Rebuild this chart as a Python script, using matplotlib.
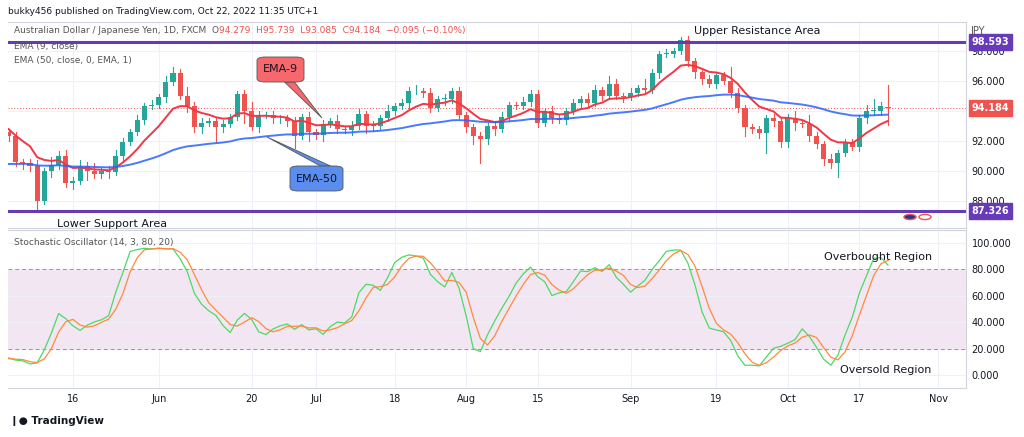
import numpy as np
import pandas as pd
import matplotlib.pyplot as plt
from matplotlib.patches import FancyBboxPatch, Polygon, Circle

# AUD/JPY daily closes (May -> Oct 21, 2022)
closes = [92.6, 92.3, 90.6, 90.5, 90.3, 88.0, 90.0, 90.4, 91.0, 89.2,
          89.3, 90.3, 90.0, 89.8, 90.0, 89.9, 91.0, 91.9, 92.6, 93.4,
          94.3, 94.4, 94.9, 95.9, 96.5, 95.0, 94.3, 92.9, 93.2, 93.3,
          92.9, 93.1, 93.6, 95.1, 94.0, 92.9, 93.7, 93.7, 93.5, 93.5,
          93.3, 92.3, 93.6, 92.6, 92.4, 93.1, 93.3, 92.8, 92.7, 93.0,
          93.8, 93.0, 93.0, 93.5, 94.0, 94.3, 94.5, 95.3, 95.3, 95.2,
          94.2, 94.8, 94.8, 95.3, 93.7, 92.9, 92.3, 92.1, 93.0, 92.8,
          93.6, 94.4, 94.3, 94.6, 95.1, 93.2, 94.0, 93.5, 93.4, 94.0,
          94.5, 94.8, 94.5, 95.4, 95.0, 95.8, 95.0, 94.9, 95.2, 95.5,
          95.4, 96.5, 97.8, 97.8, 98.0, 98.7, 97.3, 96.6, 96.1, 95.8,
          96.4, 96.0, 95.2, 94.2, 92.9, 92.8, 92.5, 93.5, 93.3, 91.9,
          93.5, 93.2, 93.1, 92.3, 91.8, 90.8, 90.5, 91.2, 91.9, 91.6,
          93.5, 94.0, 94.0, 94.3, 94.184]
first_open = 93.6
last_open = 94.279
# wick lengths above / below the candle body
up_wick = [0.5, 0.2, 0.3, 0.2, 0.3, 0.4, 0.2, 0.5, 0.3, 0.4,
           0.3, 0.4, 0.3, 0.5, 0.2, 0.3, 0.4, 0.3, 0.2, 0.3,
           0.2, 0.3, 0.2, 0.4, 0.4, 0.3, 0.6, 0.3, 0.3, 0.2,
           0.2, 0.3, 0.2, 0.2, 0.3, 0.6, 0.3, 0.2, 0.3, 0.2,
           0.2, 0.3, 0.2, 0.3, 0.2, 0.3, 0.2, 0.4, 0.2, 0.3,
           0.3, 0.2, 0.3, 0.2, 0.4, 0.2, 0.3, 0.3, 0.4, 0.2,
           0.3, 0.2, 0.3, 0.2, 0.3, 0.2, 0.2, 0.3, 0.2, 0.3,
           0.3, 0.2, 0.2, 0.3, 0.3, 0.3, 0.2, 0.3, 0.2, 0.2,
           0.3, 0.2, 0.4, 0.3, 0.2, 0.5, 0.3, 0.2, 0.3, 0.2,
           0.6, 0.3, 0.2, 0.3, 0.2, 0.2, 0.3, 0.2, 0.2, 0.3,
           0.2, 0.2, 0.9, 0.3, 0.2, 0.2, 0.2, 0.2, 0.3, 0.2,
           0.3, 0.5, 0.2, 0.6, 0.3, 0.2, 0.3, 0.2, 0.2, 0.2,
           0.2, 0.4, 0.8, 0.3, 1.46]
dn_wick = [0.2, 0.3, 0.3, 0.4, 0.3, 0.7, 0.2, 0.4, 0.3, 0.3,
           0.4, 0.2, 0.6, 0.3, 0.3, 0.4, 0.2, 0.3, 0.2, 0.2,
           0.3, 0.2, 0.2, 0.3, 0.2, 0.2, 0.4, 0.3, 0.4, 0.2,
           1.0, 0.3, 0.2, 0.2, 0.8, 0.2, 0.3, 0.2, 0.3, 0.3,
           0.3, 0.8, 0.2, 0.6, 0.3, 0.4, 0.2, 0.3, 0.2, 0.3,
           0.2, 0.5, 0.3, 0.2, 0.2, 0.3, 0.2, 0.3, 0.2, 0.3,
           0.3, 0.2, 0.4, 0.3, 0.2, 0.3, 0.5, 1.6, 0.3, 0.4,
           0.2, 0.3, 0.2, 0.2, 0.3, 0.3, 0.2, 0.3, 0.2, 0.3,
           0.2, 0.3, 0.2, 0.2, 0.3, 0.2, 0.2, 0.3, 0.2, 0.2,
           0.3, 0.2, 0.3, 0.2, 0.2, 0.2, 0.3, 0.4, 0.3, 0.2,
           0.3, 0.2, 0.3, 0.3, 0.6, 0.3, 0.3, 1.3, 0.3, 0.3,
           0.3, 0.5, 0.2, 0.3, 0.3, 0.4, 0.3, 0.9, 0.2, 0.2,
           0.3, 0.3, 0.3, 0.3, 1.09]
ema9_seed = 93.0
ema50_seed = 90.3
upper_level = 98.593
lower_level = 87.326
last_price = 94.184

price_ticks = [88, 90, 92, 94, 96, 98]
stoch_ticks = [0, 20, 40, 60, 80, 100]
date_ticks = ['2022-05-16', '2022-06-01', '2022-06-20', '2022-07-01', '2022-07-18', '2022-08-01',
              '2022-08-15', '2022-09-01', '2022-09-19', '2022-10-03', '2022-10-17', '2022-11-01']
date_labels = ['16', 'Jun', '20', 'Jul', '18', 'Aug', '15', 'Sep', '19', 'Oct', '17', 'Nov']

c = np.array(closes)
o = np.array([first_open] + closes[:-2] + [last_open])
h = np.maximum(o, c) + np.array(up_wick)
l = np.minimum(o, c) - np.array(dn_wick)
n = len(c)
idx = np.arange(n)

def ema(vals, period, seed):
    a = 2 / (period + 1)
    out, prev = [], seed
    for v in vals:
        prev = a * v + (1 - a) * prev
        out.append(prev)
    return np.array(out)

ema9 = ema(c, 9, ema9_seed)
ema50 = ema(c, 50, ema50_seed)
df = pd.DataFrame({'h': h, 'l': l, 'c': c})
hh = df.h.rolling(14, min_periods=1).max()
ll = df.l.rolling(14, min_periods=1).min()
raw_k = 100 * (df.c - ll) / (hh - ll)
k = raw_k.rolling(3, min_periods=1).mean()
d = k.rolling(3, min_periods=1).mean()

GREEN, RED, PURPLE = '#26a69a', '#ef5350', '#673ab7'
GRID, TXT = '#eef1f7', '#131722'
W, H = 1024, 437

fig = plt.figure(figsize=(W / 100, H / 100), dpi=100)
fig.patch.set_facecolor('white')
ax1 = fig.add_axes([8 / W, 1 - 228 / H, 958 / W, 206 / H])
ax2 = fig.add_axes([8 / W, 1 - 388 / H, 958 / W, 158 / H], sharex=ax1)

xmin, xmax = n - 1 - 880 / 7.15, n - 1 + 78 / 7.15
tick_pos = [n - 1 + np.busday_count('2022-10-21', t) for t in date_ticks]

for ax in (ax1, ax2):
    ax.set_facecolor('white')
    for s in ax.spines.values():
        s.set_color('#d1d4dc'); s.set_linewidth(0.8)
    ax.spines['left'].set_visible(False)
    ax.yaxis.tick_right()
    ax.tick_params(axis='y', length=0, labelsize=7, colors=TXT, pad=4)
    ax.tick_params(axis='x', length=0)
    for t in tick_pos:
        ax.axvline(t, color=GRID, lw=0.8, zorder=0)

# candles
for i in idx:
    col = GREEN if c[i] >= o[i] else RED
    ax1.plot([i, i], [l[i], h[i]], color=col, lw=0.8, zorder=2)
    lo, hi = min(o[i], c[i]), max(o[i], c[i])
    ax1.add_patch(plt.Rectangle((i - 0.35, lo), 0.7, max(hi - lo, 0.05), color=col, zorder=3, lw=0))
ax1.plot(idx, ema9, color='#f23645', lw=1.4, zorder=4)
ax1.plot(idx, ema50, color='#2962ff', lw=1.4, alpha=0.85, zorder=4)
for lv in (upper_level, lower_level):
    ax1.axhline(lv, color=PURPLE, lw=2.2, zorder=5)
ax1.axhline(last_price, color=RED, lw=0.7, ls=(0, (1, 2)), zorder=1)
for p in price_ticks:
    ax1.axhline(p, color=GRID, lw=0.8, zorder=0)
ax1.set_ylim(86.2, 99.93)
ax1.set_yticks(price_ticks)
# 94.000 is hidden behind the last-price label
ax1.set_yticklabels(['' if p == 94 else f'{p:.3f}' for p in price_ticks])
ax1.set_xlim(xmin, xmax)
ax1.tick_params(axis='x', labelbottom=False)

# price labels on the axis
for val, col in ((upper_level, PURPLE), (lower_level, PURPLE), (last_price, RED)):
    ax1.annotate(f'{val:.3f}', xy=(1.0, val), xycoords=('axes fraction', 'data'), xytext=(4, 0),
                 textcoords='offset points', va='center', ha='left', fontsize=7, color='white',
                 fontweight='bold', annotation_clip=False,
                 bbox=dict(boxstyle='square,pad=0.3', fc=col, ec=col))

fig.text(757 / W, 1 - 31 / H, 'Upper Resistance Area', ha='center', va='center', fontsize=8, color=TXT)
fig.text(112 / W, 1 - 224 / H, 'Lower Support Area', ha='center', va='center', fontsize=8, color=TXT)
t0 = fig.text(14 / W, 1 - 33 / H, 'Australian Dollar / Japanese Yen, 1D, FXCM  O', fontsize=6.5,
              color='#555')
ax1.annotate('94.279  H95.739  L93.085  C94.184  \u22120.095 (\u22120.10%)', xy=(1, 0),
             xycoords=t0, va='bottom', ha='left', fontsize=6.5, color=RED)
fig.text(14 / W, 1 - 49 / H, 'EMA (9, close)', fontsize=6.5, color='#555')
fig.text(14 / W, 1 - 63 / H, 'EMA (50, close, 0, EMA, 1)', fontsize=6.5, color='#555')
fig.text(8 / W, 1 - 14 / H, 'bukky456 published on TradingView.com, Oct 22, 2022 11:35 UTC+1',
         fontsize=6.5, color=TXT)
fig.text(970 / W, 1 - 34 / H, 'JPY', fontsize=7, color='#555')

# callouts
def callout(box, tip, text, fc):
    x0, y0, x1, y1 = box
    fig.patches.append(FancyBboxPatch((x0 / W, 1 - y1 / H), (x1 - x0) / W, (y1 - y0) / H,
                                      boxstyle='round,pad=0,rounding_size=0.008', fc=fc, ec='#555',
                                      lw=0.6, transform=fig.transFigure, zorder=10))
    cx = (x0 + x1) / 2
    cy = y1 if tip[1] > y1 else y0
    pts = [(tip[0] / W, 1 - tip[1] / H), ((cx + 4) / W, 1 - cy / H), ((cx + 14) / W, 1 - cy / H)]
    fig.patches.append(Polygon(pts, closed=True, fc=fc, ec='#555', lw=0.6,
                               transform=fig.transFigure, zorder=9))
    fig.text((x0 + x1) / 2 / W, 1 - (y0 + y1) / 2 / H, text, ha='center', va='center',
             fontsize=8, color=TXT, zorder=11)

callout((257, 57, 304, 82), (322, 118), 'EMA-9', '#f7676e')
callout((290, 166, 343, 191), (267, 137), 'EMA-50', '#5b8def')

fig.patches.append(Circle((910 / W, 1 - 217 / H), 6 / W, transform=fig.transFigure,
                          fc='#1e3a8a', ec='#ef5350', lw=1, zorder=10))
fig.patches.append(Circle((925 / W, 1 - 217 / H), 6 / W, transform=fig.transFigure,
                          fc='white', ec='#ef5350', lw=1, zorder=10))

# stochastic
ax2.axhspan(20, 80, color='#f3e6f3', zorder=0)
for lv in (80, 20):
    ax2.axhline(lv, color='#9598a1', lw=0.7, ls=(0, (4, 3)), zorder=1)
for p in stoch_ticks:
    ax2.axhline(p, color=GRID, lw=0.8, zorder=0)
ax2.plot(idx, k, color='#4cd964', lw=0.9, zorder=3)
ax2.plot(idx, d, color='#ff8a3d', lw=0.9, zorder=3)
ax2.set_ylim(-9.8, 109.8)
ax2.set_yticks(stoch_ticks)
ax2.set_yticklabels([f'{p:.3f}' for p in stoch_ticks])
ax2.set_xticks(tick_pos)
ax2.set_xticklabels(date_labels, fontsize=7, color=TXT)
ax2.tick_params(axis='x', pad=4)
ax2.set_xlim(xmin, xmax)
fig.text(14 / W, 1 - 245 / H, 'Stochastic Oscillator (14, 3, 80, 20)', fontsize=6.5, color='#555')
fig.text(878 / W, 1 - 257 / H, 'Overbought Region', ha='center', va='center', fontsize=8, color=TXT)
fig.text(886 / W, 1 - 370 / H, 'Oversold Region', ha='center', va='center', fontsize=8, color=TXT)

fig.text(10 / W, 1 - 421 / H, '\u2759\u25cf TradingView', fontsize=7.5, color=TXT, va='center',
         fontweight='bold')

fig.savefig('out.png', dpi=100)
